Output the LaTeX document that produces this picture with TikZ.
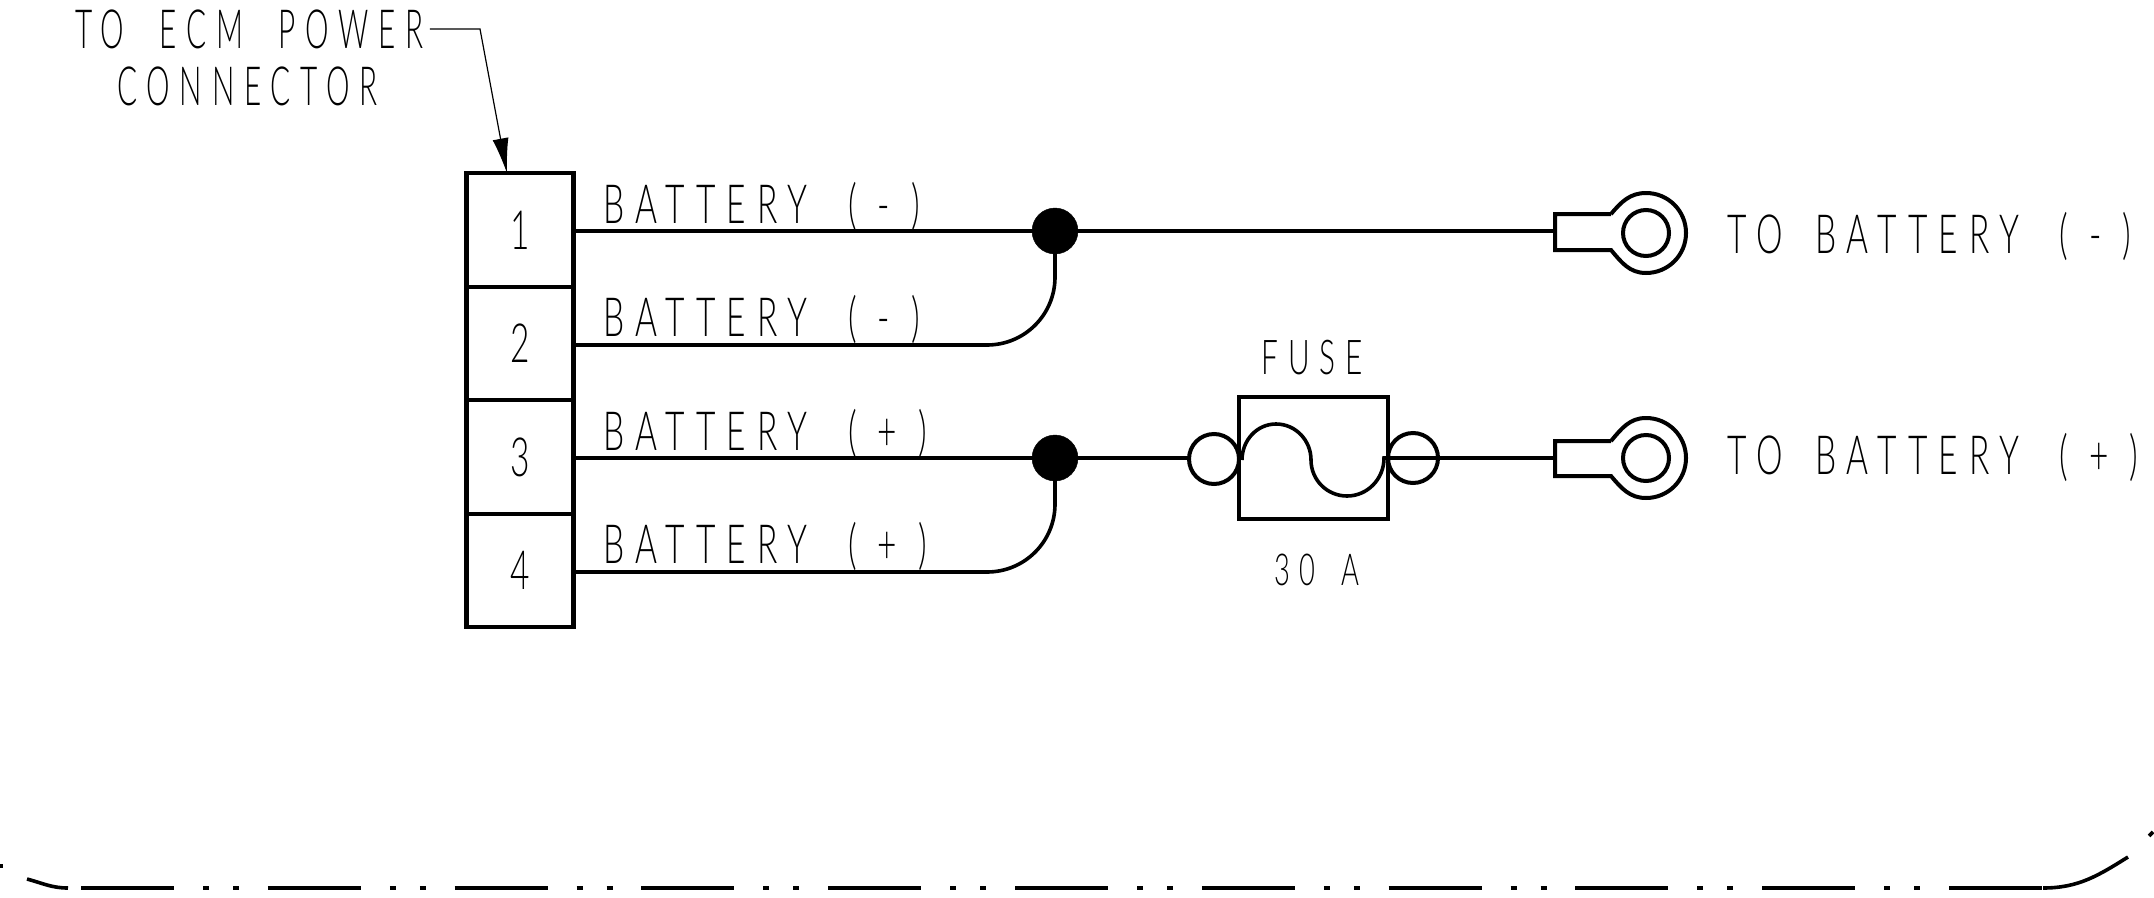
\documentclass[tikz,border=0pt]{standalone}
\usepackage{fontspec}
\usepackage{tikz}
\usetikzlibrary{arrows.meta}
\newfontfamily\cadfont[FakeStretch=0.62,LetterSpace=20.5,WordSpace=1.6]{Lato Light}
\newfontfamily\cadtight[FakeStretch=0.55,LetterSpace=18,WordSpace=2]{Lato Light}
\newcommand{\sgn}[1]{\hspace{8pt}(\hspace{21pt}#1\hspace{21pt})}
\tikzset{
  wire/.style={line width=3.6pt},
  pin/.style={draw, rectangle, line width=4.2pt, minimum width=107pt, minimum height=113.5pt, inner sep=0pt, outer sep=0pt, font=\cadfont\fontsize{54}{54}\selectfont},
  dot/.style={draw, circle, fill=black, minimum size=46pt, inner sep=0pt, outer sep=0pt},
  hole/.style={draw, circle, line width=4pt, minimum size=46pt, inner sep=0pt, outer sep=0pt},
  bulb/.style={draw, circle, line width=4pt, minimum size=50pt, inner sep=0pt, outer sep=0pt},
  ring/.style={circle, minimum size=80pt, inner sep=0pt, outer sep=0pt},
  lbl/.style={anchor=base west, inner sep=0pt, font=\cadfont\fontsize{54}{54}\selectfont},
  lbltight/.style={anchor=base west, inner sep=0pt, font=\cadtight\fontsize{54}{54}\selectfont},
  lblc/.style={anchor=base, inner sep=0pt, font=\cadfont\fontsize{54}{54}\selectfont}
}
\begin{document}
\begin{tikzpicture}[x=1pt, y=-1pt]
\useasboundingbox (0,0) rectangle (2154,897);
\node (ecm1) at (75, 48) [lbltight] {TO ECM POWER};
\node (ecm2) at (117, 105) [lbltight] {CONNECTOR};
\node (p1) at (520, 230) [pin] {1};
\node (p2) at (520, 343.5) [pin] {2};
\node (p3) at (520, 457) [pin] {3};
\node (p4) at (520, 570.5) [pin] {4};
\coordinate (bend) at (480, 29);
\draw[line width=1.2pt, -{Latex[length=35pt, width=16pt]}] (ecm1.east |- bend) ++(6,0) -- (bend) -- (p1.north -| 507, 172);
\node (w1) at (603, 223) [lbl] {BATTERY \sgn{-}};
\node (w2) at (603, 336) [lbl] {BATTERY \sgn{-}};
\node (w3) at (603, 450) [lbl] {BATTERY \sgn{+}};
\node (w4) at (603, 563) [lbl] {BATTERY \sgn{+}};
\node (j1) at (1055, 231) [dot] {};
\node (j2) at (1055, 458) [dot] {};
\coordinate (s2) at (573.5, 345);
\coordinate (a2) at (987, 345);
\coordinate (c2) at (1055, 277);
\coordinate (s4) at (573.5, 572);
\coordinate (a4) at (987, 572);
\coordinate (c4) at (1055, 504);
\draw[wire] (p1.east |- j1) -- (j1);
\draw[wire] (s2) -- (a2) to [out=0, in=270] (c2) -- (j1);
\draw[wire] (p3.east |- j2) -- (j2);
\draw[wire] (s4) -- (a4) to [out=0, in=270] (c4) -- (j2);
\node (fuse) at (1313, 458) [draw, rectangle, line width=4pt, minimum width=149pt, minimum height=122pt, inner sep=0pt, outer sep=0pt] {};
\node (b1) at (1214, 459) [bulb] {};
\node (b2) at (1413, 458) [bulb] {};
\coordinate (f1) at (1242, 460);
\coordinate (f2) at (1276, 424);
\coordinate (f3) at (1311, 460);
\coordinate (f4) at (1347, 496);
\coordinate (f5) at (1384, 458);
\draw[wire] (f1) to [out=90, in=180] (f2) to [out=0, in=90] (f3) to [out=270, in=180] (f4) to [out=0, in=270] (f5) -- (b2.west);
\node (fl) at (1312, 374) [lblc, font=\cadfont\fontsize{48}{48}\selectfont] {FUSE};
\node (amp) at (1317, 585) [lblc, font=\cadfont\fontsize{44}{44}\selectfont] {30 A};
\node (r1) at (1646, 233) [ring] {};
\node (h1) at (1646, 233) [hole] {};
\node (r2) at (1646, 458) [ring] {};
\node (h2) at (1646, 458) [hole] {};
\coordinate (t1a) at (1611, 214);
\coordinate (t1b) at (1555, 214);
\coordinate (t1c) at (1555, 250);
\coordinate (t1d) at (1611, 250);
\coordinate (t2a) at (1611, 441);
\coordinate (t2b) at (1555, 441);
\coordinate (t2c) at (1555, 476);
\coordinate (t2d) at (1611, 476);
\draw[line width=4pt] (t1a) -- (t1b) -- (t1c) -- (t1d) to [out=-50, in=180] (r1.south) to [out=0, in=270] (r1.east) to [out=90, in=0] (r1.north) to [out=180, in=50] (t1a);
\draw[line width=4pt] (t2a) -- (t2b) -- (t2c) -- (t2d) to [out=-50, in=180] (r2.south) to [out=0, in=270] (r2.east) to [out=90, in=0] (r2.north) to [out=180, in=50] (t2a);
\draw[wire] (j1) -- (t1b |- j1);
\draw[wire] (j2) -- (b1.west |- j2);
\draw[wire] (b2.west) -- (t2b |- b2);
\node (tb1) at (1727, 253) [lbl] {TO BATTERY \sgn{-}};
\node (tb2) at (1727, 474) [lbl] {TO BATTERY \sgn{+}};
\coordinate (m1) at (27, 879);
\coordinate (m2) at (68, 888);
\coordinate (m3) at (81, 888);
\coordinate (m4) at (2043, 888);
\coordinate (m5) at (2128, 857);
\draw[wire] (m1) to [out=-15, in=180] (m2);
\draw[wire, dash pattern=on 93pt off 29pt on 6pt off 24pt on 6pt off 28.8pt] (m3) -- (m4);
\draw[wire] (m4) to [out=0, in=212] (m5);
\coordinate (e1) at (0, 866);
\coordinate (e2) at (3, 866);
\coordinate (e3) at (2149, 836);
\coordinate (e4) at (2153, 832);
\draw[wire] (e1) -- (e2);
\draw[wire] (e3) -- (e4);
\end{tikzpicture}
\end{document}
